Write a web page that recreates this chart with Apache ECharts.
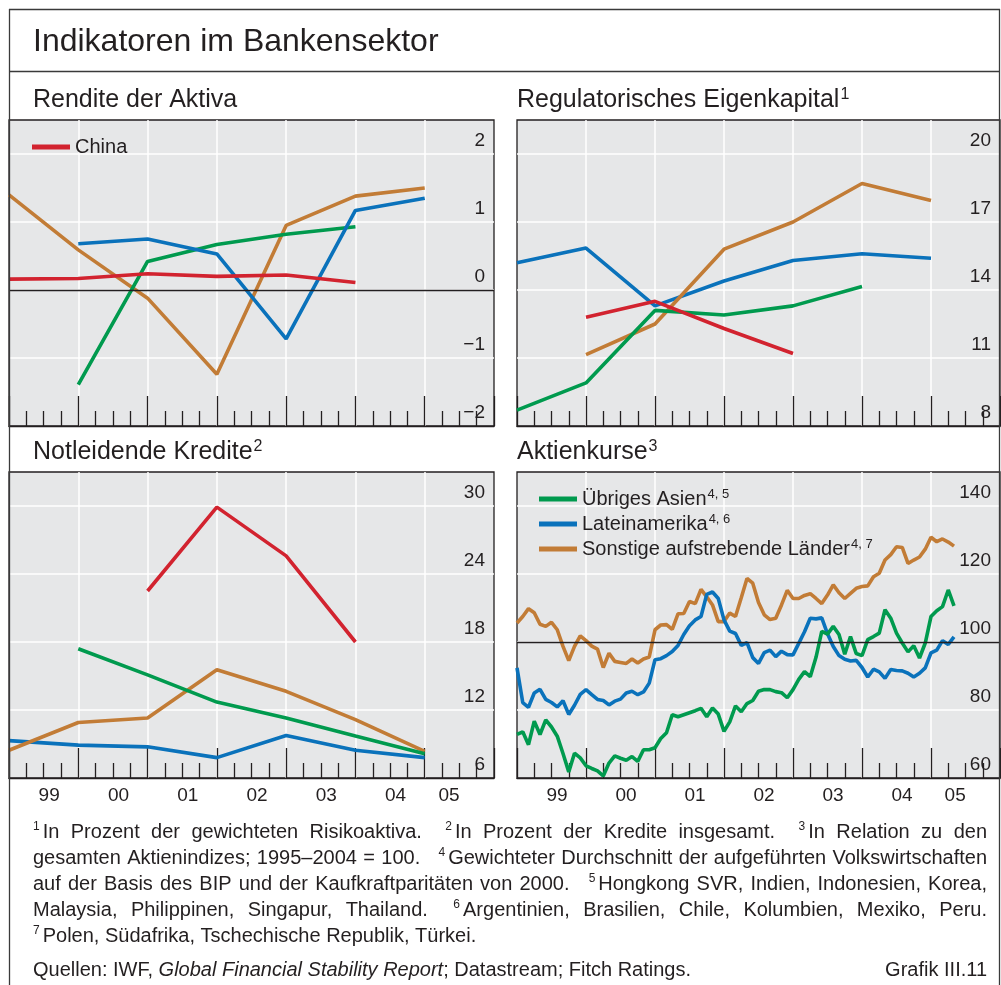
<!DOCTYPE html>
<html><head><meta charset="utf-8">
<script src="https://cdn.jsdelivr.net/npm/echarts@6/dist/echarts.min.js"></script>
<style>html,body{margin:0;padding:0;background:#fff}#c{width:1001px;height:985px}</style>
</head><body><div id="c"></div>
<script>
// ---------------- DATA ----------------
const years = [1998, 1999, 2000, 2001, 2002, 2003, 2004];       // annual values, plotted at year end
const xLabels = ['99', '00', '01', '02', '03', '04', '05'];
const xLabelPos = [1999.58, 2000.58, 2001.58, 2002.58, 2003.58, 2004.58, 2005.35];

const N_CHINA = 'China';
const N_ASIA = 'Übriges Asien';
const N_LATAM = 'Lateinamerika';
const N_OTHER = 'Sonstige aufstrebende Länder';

// Rendite der Aktiva
const roaChina = [0.16, 0.17, 0.24, 0.20, 0.22, 0.11, null];
const roaAsia  = [null, -1.39, 0.42, 0.67, 0.82, 0.93, null];
const roaLatam = [null, 0.68, 0.75, 0.53, -0.72, 1.17, 1.35];
const roaOther = [1.40, 0.59, -0.12, -1.24, 0.95, 1.38, 1.50];
// Regulatorisches Eigenkapital
const capChina = [null, 12.8, 13.5, 12.3, 11.2, null, null];
const capAsia  = [8.7, 9.9, 13.1, 12.9, 13.3, 14.15, null];
const capLatam = [15.2, 15.85, 13.3, 14.4, 15.3, 15.6, 15.4];
const capOther = [null, 11.15, 12.5, 15.8, 17.0, 18.7, 17.95];
// Notleidende Kredite
const nplChina = [null, null, 22.5, 29.9, 25.6, 18.0, null];
const nplAsia  = [null, 17.4, 15.1, 12.7, 11.3, 9.7, 8.15];
const nplLatam = [9.3, 8.9, 8.75, 7.8, 9.75, 8.45, 7.8];
const nplOther = [8.45, 10.9, 11.3, 15.55, 13.65, 11.15, 8.35];
// Aktienkurse, monthly from Jan 1999
const stockStart = 1999;
const stockAsia = [72.8,73.6,69.8,76.7,72.8,77.1,75.0,72.3,67.2,61.8,
  67.3,65.9,63.6,62.8,62.1,60.6,64.4,66.5,65.8,65.2,
  66.3,64.9,68.3,68.3,68.9,71.6,73.3,78.6,78.0,78.6,
  79.2,79.8,80.5,78.0,80.6,78.8,73.7,76.5,81.2,79.5,
  81.9,82.8,85.5,86.0,86.0,85.4,85.1,83.6,86.0,89.0,
  91.3,89.8,95.5,103.1,102.3,104.6,102.2,96.4,101.6,96.6,
  96.0,100.7,101.6,102.6,109.5,107.0,102.6,99.7,97.1,98.9,
  95.3,99.7,107.5,109.2,110.4,115.3,110.6];
const stockLatam = [92.4,82.2,80.8,85.0,86.1,83.1,82.2,80.9,82.7,78.7,
  81.4,84.6,86.0,84.5,83.1,82.8,81.5,82.6,83.2,85.0,
  85.5,84.5,85.3,87.9,94.8,95.1,96.0,97.2,99.0,102.2,
  104.8,106.5,107.5,114.0,114.7,112.8,106.5,103.2,102.5,99.0,
  99.8,95.4,93.7,96.9,97.6,95.7,97.3,96.3,96.2,99.6,
  103.0,107.0,106.8,107.1,102.4,98.7,96.0,94.9,94.4,94.6,
  92.5,89.7,92.0,91.2,89.3,91.9,91.6,91.5,90.8,89.7,
  90.8,92.4,96.8,97.6,100.4,99.3,101.5];
const stockOther = [105.6,107.5,109.8,108.6,105.2,104.6,105.8,103.6,98.7,94.5,
  98.7,101.8,100.4,98.8,97.9,92.5,96.7,94.3,94.0,93.7,
  95.0,93.8,95.0,95.6,103.6,105.0,105.1,103.7,108.3,108.4,
  111.9,111.3,115.5,113.3,110.9,106.0,106.0,108.5,107.5,113.0,
  118.7,117.3,111.6,108.0,106.6,107.0,110.9,115.2,112.8,112.8,
  113.7,114.2,112.8,111.3,113.8,116.8,114.5,112.8,114.3,115.8,
  116.3,116.5,119.2,120.2,124.1,125.7,128.0,127.8,123.1,124.1,
  125.0,127.3,130.8,129.5,130.3,129.4,128.2];

const refRoa = 0;
const refStocks = 100;

// ---------------- STYLE ----------------
const FF = 'Liberation Sans';
const TXT = '#231f20';
const FRAME = '#3a3a3a';
const BG = '#e6e7e8';
const C_RED = '#d2232f', C_GREEN = '#009a4e', C_BLUE = '#0a72bb', C_ORANGE = '#c27c36';

function annual(vals) {
  const out = [];
  vals.forEach((v, i) => { if (v != null) out.push([years[i] + 1, v]); });
  return out;
}
function monthly(vals) { return vals.map((v, i) => [stockStart + i / 12, v]); }

const G = [
  {left: 9, top: 120, width: 485, height: 306},
  {left: 517, top: 120, width: 483, height: 306},
  {left: 9, top: 472, width: 485, height: 306},
  {left: 517, top: 472, width: 483, height: 306}
];

function xAx(i, withLabels) {
  return {
    type: 'value', gridIndex: i, min: 1999, max: 2006, interval: 1,
    axisLine: {show: true, onZero: false, lineStyle: {color: TXT, width: 1.3}},
    axisTick: {show: true, inside: true, length: 30, lineStyle: {color: TXT, width: 1.3}},
    minorTick: {show: true, splitNumber: 4, length: 15, lineStyle: {color: TXT, width: 1.3}},
    splitLine: {show: true, showMinLine: false, showMaxLine: false, lineStyle: {color: '#ffffff', width: 1.5}},
    minorSplitLine: {show: false},
    axisLabel: withLabels ? {
      show: true, customValues: xLabelPos, fontSize: 19, fontFamily: FF, color: TXT, margin: 8,
      formatter: v => xLabels[Math.floor(v + 0.001) - 1999]
    } : {show: false}
  };
}
function yAx(i, min, max, interval) {
  return {
    type: 'value', gridIndex: i, position: 'right', min, max, interval,
    axisLine: {show: false}, axisTick: {show: false},
    splitLine: {show: true, showMinLine: false, showMaxLine: false, lineStyle: {color: '#ffffff', width: 1.5}},
    axisLabel: {
      inside: true, margin: 9, fontSize: 19, fontFamily: FF, color: TXT,
      verticalAlign: 'bottom', padding: [0, 0, 4, 0], showMaxLabel: false, showMinLabel: true,
      formatter: v => (v < 0 ? '\u2212' + Math.abs(v) : String(v))
    }
  };
}
function ln(name, grid, data, color, extra) {
  return Object.assign({
    type: 'line', name, xAxisIndex: grid, yAxisIndex: grid, data, showSymbol: false,
    lineStyle: {color, width: 3.6}, itemStyle: {color}, clip: true,
    emphasis: {disabled: true}, animation: false, z: 3
  }, extra || {});
}
function refLine(v) {
  return {silent: true, symbol: 'none', label: {show: false}, animation: false,
    lineStyle: {color: TXT, width: 1.3, type: 'solid'}, data: [{yAxis: v}]};
}

const series = [
  ln(N_OTHER, 0, annual(roaOther), C_ORANGE, {markLine: refLine(refRoa)}),
  ln(N_ASIA, 0, annual(roaAsia), C_GREEN),
  ln(N_LATAM, 0, annual(roaLatam), C_BLUE),
  ln(N_CHINA, 0, annual(roaChina), C_RED),

  ln(N_LATAM, 1, annual(capLatam), C_BLUE),
  ln(N_OTHER, 1, annual(capOther), C_ORANGE),
  ln(N_ASIA, 1, annual(capAsia), C_GREEN),
  ln(N_CHINA, 1, annual(capChina), C_RED),

  ln(N_LATAM, 2, annual(nplLatam), C_BLUE),
  ln(N_OTHER, 2, annual(nplOther), C_ORANGE),
  ln(N_ASIA, 2, annual(nplAsia), C_GREEN),
  ln(N_CHINA, 2, annual(nplChina), C_RED),

  ln(N_OTHER, 3, monthly(stockOther), C_ORANGE, {markLine: refLine(refStocks)}),
  ln(N_LATAM, 3, monthly(stockLatam), C_BLUE),
  ln(N_ASIA, 3, monthly(stockAsia), C_GREEN)
];

const sups = {[N_ASIA]: '4, 5', [N_LATAM]: '4, 6', [N_OTHER]: '4, 7'};
function legendCfg(data, left, top) {
  return {
    data, left, top, orient: 'vertical', icon: 'rect', itemWidth: 38, itemHeight: 5, itemGap: 4,
    selectedMode: false, padding: 0,
    formatter: n => sups[n] ? `{t|${n}}{s|${sups[n]}}` : `{t|${n}}`,
    textStyle: {
      color: TXT, fontFamily: FF,
      rich: {
        t: {fontSize: 20, lineHeight: 22, fontFamily: FF, color: TXT},
        s: {fontSize: 13, lineHeight: 13, verticalAlign: 'top', fontFamily: FF, color: TXT, padding: [0, 0, 0, 1]}
      }
    }
  };
}

// ---------------- TEXT / FRAME (graphic) ----------------
const graphics = [];
function hline(x1, x2, y) { graphics.push({type: 'line', z: 100, silent: true, shape: {x1, y1: y, x2, y2: y}, style: {stroke: FRAME, lineWidth: 1.3}}); }
function vline(x, y1, y2) { graphics.push({type: 'line', z: 100, silent: true, shape: {x1: x, y1, x2: x, y2}, style: {stroke: FRAME, lineWidth: 1.3}}); }
vline(9.5, 9, 985); vline(999.5, 9, 985); hline(9, 1000, 9.5); hline(9, 1000, 71.5);

function title(x, y, main, sup, size) {
  graphics.push({type: 'text', z: 100, silent: true, style: {
    x, y, verticalAlign: 'middle', align: 'left',
    text: sup ? `{t|${main}}{s|${sup}}` : `{t|${main}}`,
    rich: {
      t: {fontSize: size, lineHeight: size + 4, fontFamily: FF, fill: TXT},
      s: {fontSize: Math.round(size * 0.62), lineHeight: Math.round(size * 0.62), verticalAlign: 'top', fontFamily: FF, fill: TXT, padding: [1, 0, 0, 1]}
    }
  }});
}
title(33, 42, 'Indikatoren im Bankensektor', null, 32);
title(33, 100, 'Rendite der Aktiva', null, 25);
title(517, 100, 'Regulatorisches Eigenkapital', '1', 25);
title(33, 452, 'Notleidende Kredite', '2', 25);
title(517, 452, 'Aktienkurse', '3', 25);

// footnotes (justified)
const FN_LINES = [
  '^1In Prozent der gewichteten Risikoaktiva. ^2In Prozent der Kredite insgesamt. ^3In Relation zu den',
  'gesamten Aktienindizes; 1995\u20132004 = 100. ^4Gewichteter Durchschnitt der aufgeführten Volkswirtschaften',
  'auf der Basis des BIP und der Kaufkraftparitäten von 2000. ^5Hongkong SVR, Indien, Indonesien, Korea,',
  'Malaysia, Philippinen, Singapur, Thailand. ^6Argentinien, Brasilien, Chile, Kolumbien, Mexiko, Peru.'
];
const FN_LAST = '^7Polen, Südafrika, Tschechische Republik, Türkei.';
const FN_Y = [832, 858, 884, 910, 936];
const FN_X0 = 33, FN_X1 = 987;
const mctx = document.createElement('canvas').getContext('2d');
function mw(t, s, st) { mctx.font = (st ? st + ' ' : '') + s + 'px "' + FF + '"'; return mctx.measureText(t).width; }
let FS = 20;
let SS = 12;
const SUPGAP = 3, EXTRA = 12;
function tok(t) {
  const m = t.match(/^\^(\d)(.*)$/);
  if (m) return {sup: m[1], txt: m[2], w: mw(m[1], SS) + SUPGAP + mw(m[2], FS)};
  return {sup: null, txt: t, w: mw(t, FS)};
}
// shrink font if any line would not fit
for (let k = 0; k < 10; k++) {
  let ok = true;
  FN_LINES.forEach(l => {
    const ts = l.split(' ').map(tok);
    const sw = ts.reduce((a, b) => a + b.w, 0);
    if (FN_X1 - FN_X0 - sw < (ts.length - 1) * 4.5) ok = false;
  });
  if (ok) break;
  FS -= 0.25;
}
function tokEl(t, x, y) {
  if (t.sup) return {type: 'text', z: 100, silent: true, style: {x, y, verticalAlign: 'middle', align: 'left',
    text: `{s|${t.sup}}{t|${t.txt}}`,
    rich: {s: {fontSize: SS, lineHeight: 13, verticalAlign: 'top', fontFamily: FF, fill: TXT, padding: [0, SUPGAP, 0, 0]},
           t: {fontSize: FS, lineHeight: 22, fontFamily: FF, fill: TXT}}}};
  return {type: 'text', z: 100, silent: true, style: {x, y, verticalAlign: 'middle', align: 'left', text: t.txt, fontSize: FS, fontFamily: FF, fill: TXT}};
}
FN_LINES.forEach((l, li) => {
  const ts = l.split(' ').map(tok);
  const sw = ts.reduce((a, b) => a + b.w, 0);
  const ex = ts.reduce((a, b, i) => a + (i > 0 && b.sup ? EXTRA : 0), 0);
  const u = (FN_X1 - FN_X0 - sw - ex) / (ts.length - 1);
  let x = FN_X0;
  ts.forEach((t, i) => {
    if (i > 0) x += u + (t.sup ? EXTRA : 0);
    graphics.push(tokEl(t, x, FN_Y[li]));
    x += t.w;
  });
});
(function () {
  const ts = FN_LAST.split(' ').map(tok);
  const sp = mw(' ', FS);
  let x = FN_X0;
  ts.forEach((t, i) => { if (i > 0) x += sp; graphics.push(tokEl(t, x, FN_Y[4])); x += t.w; });
})();
graphics.push({type: 'text', z: 100, silent: true, style: {x: 33, y: 970, verticalAlign: 'middle', align: 'left',
  text: '{t|Quellen: IWF, }{i|Global Financial Stability Report}{t|; Datastream; Fitch Ratings.}',
  rich: {t: {fontSize: FS, fontFamily: FF, fill: TXT}, i: {fontSize: FS, fontStyle: 'italic', fontFamily: FF, fill: TXT}}}});
graphics.push({type: 'text', z: 100, silent: true, style: {x: 987, y: 970, verticalAlign: 'middle', align: 'right',
  text: 'Grafik III.11', fontSize: FS, fontFamily: FF, fill: TXT}});

// ---------------- OPTION ----------------
const option = {
  animation: false,
  backgroundColor: '#ffffff',
  textStyle: {fontFamily: FF},
  grid: G.map(g => Object.assign({show: true, backgroundColor: BG, borderColor: TXT, borderWidth: 1.3, containLabel: false}, g)),
  xAxis: [xAx(0, false), xAx(1, false), xAx(2, true), xAx(3, true)],
  yAxis: [yAx(0, -2, 2.5, 1), yAx(1, 8, 21.5, 3), yAx(2, 6, 33, 6), yAx(3, 60, 150, 20)],
  legend: [legendCfg([N_CHINA], 32, 137), legendCfg([N_ASIA, N_LATAM, N_OTHER], 539, 488)],
  series,
  graphic: graphics
};
const chart = echarts.init(document.getElementById('c'), null, {renderer: 'canvas', width: 1001, height: 985});
chart.setOption(option);
</script>
</body></html>
